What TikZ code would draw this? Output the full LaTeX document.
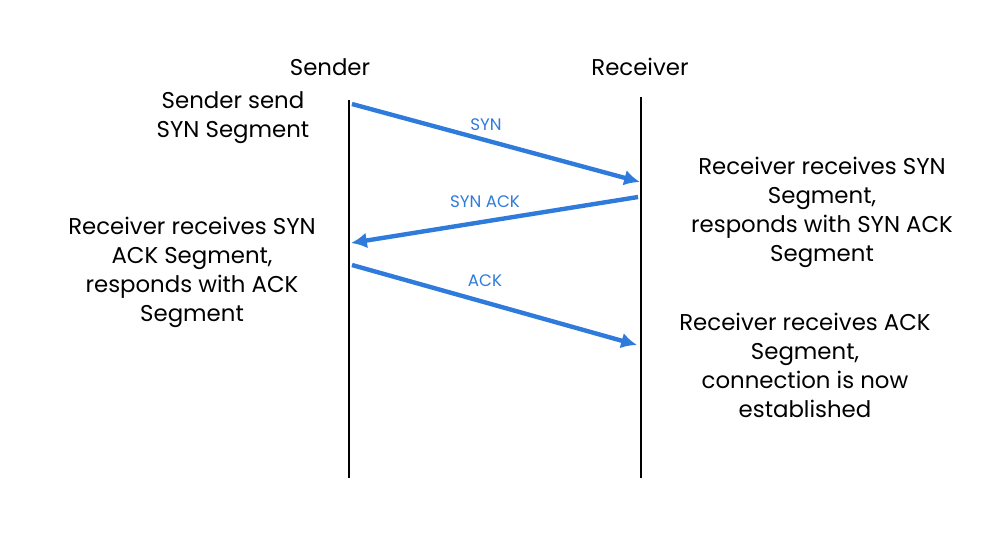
\documentclass[tikz,border=0pt]{standalone}
\usepackage{fontspec}
\setmainfont{Poppins}
\usetikzlibrary{arrows.meta,positioning}
\definecolor{msgblue}{RGB}{47,123,219}
\tikzset{
	lifeline/.style={line width=1.1pt},
	msg/.style={->, msgblue, line width=2.5pt},
	msglabel/.style={msgblue, font=\fontsize{9.5}{11}\selectfont},
	note/.style={align=center, font=\fontsize{13}{16.5}\selectfont},
}

\begin{document}
\begin{tikzpicture}[>={Latex[length=9pt,width=9pt]}, x=0.02cm, y=-0.02cm]
\useasboundingbox (0,0) rectangle (1006,535);
% the lifelines
\node[note] at (330,67) (sender) {Sender};
\node[note] at (640,67) (receiver) {Receiver};
\coordinate (stop) at (349,100);
\coordinate (sbot) at (349,478);
\coordinate (rtop) at (641,97);
\coordinate (rbot) at (641,478);
\draw[lifeline] (stop) -- (sbot);
\draw[lifeline] (rtop) -- (rbot);

% the messages
\coordinate (s1) at (352,104);
\coordinate (r1) at (640,182);
\coordinate (r2) at (638,197);
\coordinate (s2) at (351,243);
\coordinate (s3) at (352,265);
\coordinate (r3) at (637,345);
\draw[msg] (s1) -- (r1);
\draw[msg] (r2) -- (s2);
\draw[msg] (s3) -- (r3);
\node[msglabel] at (486,125) (syn) {SYN};
\node[msglabel] at (485,202) (synack) {SYN ACK};
\node[msglabel] at (485,281) (ack) {ACK};

% the notes
\node[note] at (233,118) (send) {Sender send\\SYN Segment};
\node[note] at (192,272.5) (gotsynack) {Receiver receives SYN\\ACK Segment,\\responds with ACK\\Segment};
\node[note] at (822,212.5) (gotsyn) {Receiver receives SYN\\Segment,\\responds with SYN ACK\\Segment};
\node[note] at (805,365.5) (gotack) {Receiver receives ACK\\Segment,\\connection is now\\established};

\end{tikzpicture}
\end{document}
